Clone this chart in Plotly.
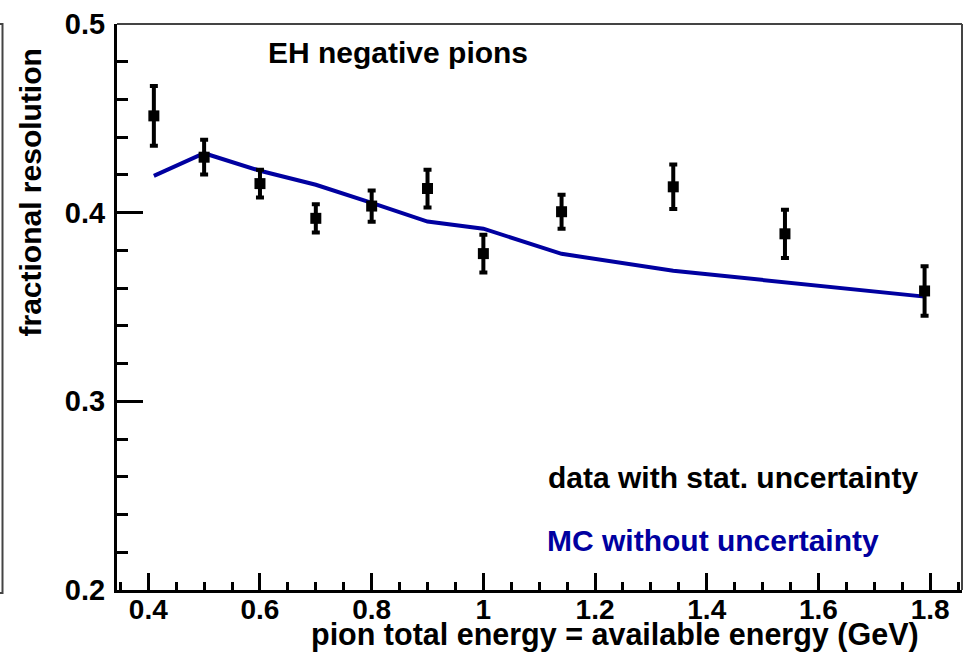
import plotly.graph_objects as go

# data
energy = [0.41, 0.50, 0.60, 0.70, 0.80, 0.90, 1.00, 1.14, 1.34, 1.54, 1.79]
data_res = [0.4513, 0.4294, 0.4154, 0.3970, 0.4035, 0.4128, 0.3783, 0.4005, 0.4137, 0.3888, 0.3585]
data_err = [0.0158, 0.0092, 0.0073, 0.0075, 0.0083, 0.0100, 0.0100, 0.0090, 0.0118, 0.0128, 0.0131]
mc_res = [0.4195, 0.4315, 0.4222, 0.4148, 0.4052, 0.3953, 0.3915, 0.3782, 0.3692, 0.3630, 0.3555]

x_ticks = [0.4, 0.6, 0.8, 1.0, 1.2, 1.4, 1.6, 1.8]
x_ticklabels = ["0.4", "0.6", "0.8", "1", "1.2", "1.4", "1.6", "1.8"]
y_ticks = [0.2, 0.3, 0.4, 0.5]
y_ticklabels = ["0.2", "0.3", "0.4", "0.5"]

FONT = "Liberation Sans, Arial, Helvetica, sans-serif"
MC_COLOR = "#0000a0"

W, H = 970, 662
L, R, T, B = 117, 8, 19, 72
pw, ph = W - L - R, H - T - B

def px(xp):
    return (xp - L) / pw

def py(yp):
    return (H - B - yp) / ph

fig = go.Figure()

fig.add_trace(go.Scatter(
    x=energy, y=mc_res, mode="lines",
    line=dict(color=MC_COLOR, width=4),
    showlegend=False, hoverinfo="skip"))

fig.add_trace(go.Scatter(
    x=energy, y=data_res, mode="markers",
    marker=dict(symbol="square", size=11, color="black"),
    error_y=dict(type="data", array=data_err, color="black", thickness=4, width=4),
    showlegend=False))

fig.update_layout(
    width=W, height=H,
    margin=dict(l=L, r=R, t=T, b=B),
    paper_bgcolor="white", plot_bgcolor="white",
    font=dict(family=FONT, color="black"),
    xaxis=dict(
        range=[0.344, 1.857], showgrid=False, zeroline=False,
        showline=True, linewidth=3, linecolor="black",
        ticks="inside", ticklen=17, tickwidth=3, tickcolor="black",
        tickvals=x_ticks, ticktext=x_ticklabels,
        tickfont=dict(family=FONT, size=28, weight="bold", color="black"),
        ticklabelstandoff=-8,
        minor=dict(dtick=0.05, tick0=0.4, ticks="inside", ticklen=8, tickwidth=3,
                   tickcolor="black", showgrid=False),
    ),
    yaxis=dict(
        range=[0.2, 0.5], showgrid=False, zeroline=False,
        showline=True, linewidth=3, linecolor="black",
        ticks="inside", ticklen=26, tickwidth=3, tickcolor="black",
        tickvals=y_ticks, ticktext=y_ticklabels,
        tickfont=dict(family=FONT, size=29, weight="bold", color="black"),
        ticklabelstandoff=3,
        minor=dict(dtick=0.02, tick0=0.2, ticks="inside", ticklen=11, tickwidth=3,
                   tickcolor="black", showgrid=False),
    ),
)

# frame top and right
fig.add_shape(type="line", xref="paper", yref="paper", x0=0, x1=1, y0=1, y1=1,
              line=dict(color="#444", width=2))
fig.add_shape(type="line", xref="paper", yref="paper", x0=1, x1=1, y0=0, y1=1,
              line=dict(color="#444", width=2))
# partial frame at far left
fig.add_shape(type="path", xref="paper", yref="paper",
              path=f"M {px(0)} {py(19)} L {px(2.5)} {py(19)} L {px(2.5)} {py(593)} L {px(0)} {py(593)}",
              line=dict(color="#444", width=2))

fig.add_annotation(text="fractional resolution", xref="paper", yref="paper",
                   x=px(31), y=py(189), textangle=-90, showarrow=False,
                   xanchor="center", yanchor="middle",
                   font=dict(family=FONT, size=30, weight="bold", color="black"))
fig.add_annotation(text="pion total energy = available energy (GeV)", xref="paper", yref="paper",
                   x=px(921), y=py(635), showarrow=False,
                   xanchor="right", yanchor="middle",
                   font=dict(family=FONT, size=30.5, weight="bold", color="black"))
fig.add_annotation(text="EH negative pions", xref="paper", yref="paper",
                   x=px(266), y=py(48), showarrow=False,
                   xanchor="left", yanchor="middle",
                   font=dict(family=FONT, size=30, weight="bold", color="black"))
fig.add_annotation(text="data with stat. uncertainty", xref="paper", yref="paper",
                   x=px(546), y=py(477), showarrow=False,
                   xanchor="left", yanchor="middle",
                   font=dict(family=FONT, size=30, weight="bold", color="black"))
fig.add_annotation(text="MC without uncertainty", xref="paper", yref="paper",
                   x=px(545), y=py(540), showarrow=False,
                   xanchor="left", yanchor="middle",
                   font=dict(family=FONT, size=30, weight="bold", color=MC_COLOR))

fig.write_html("out.html")
